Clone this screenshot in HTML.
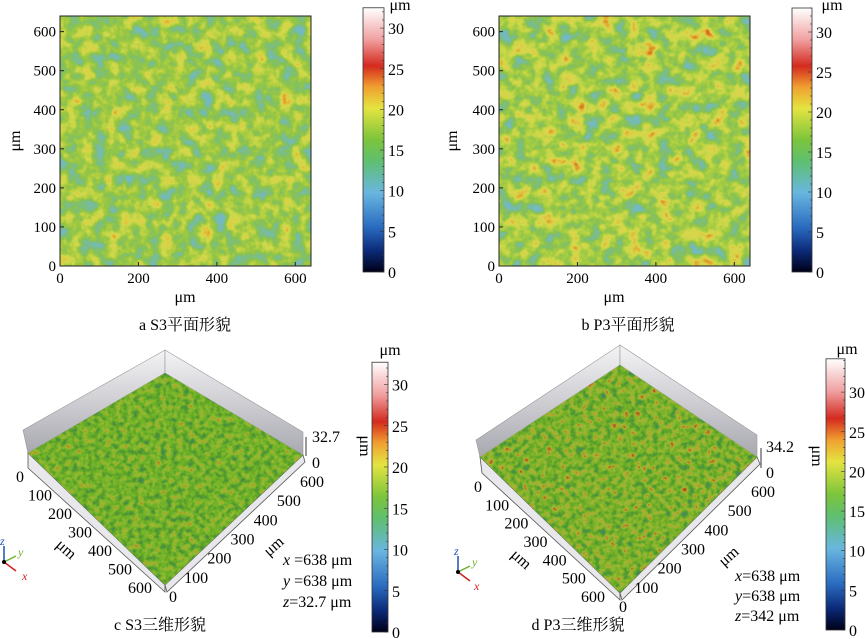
<!DOCTYPE html>
<html><head><meta charset="utf-8">
<style>
body{margin:0;background:#fff}
svg{display:block;font-family:"Liberation Serif","Noto Serif CJK SC",serif}
</style></head>
<body>
<svg id="fig" width="865" height="639" viewBox="0 0 865 639" xmlns="http://www.w3.org/2000/svg">
<defs>
 <filter id="nz2a" x="0" y="0" width="1" height="1" filterUnits="objectBoundingBox" color-interpolation-filters="sRGB">
  <feTurbulence type="fractalNoise" baseFrequency="0.075" numOctaves="3" seed="3"/>
  <feColorMatrix type="matrix" values="1 0 0 0 0 1 0 0 0 0 1 0 0 0 0 0 0 0 0 1"/>
  <feComponentTransfer>
   <feFuncR type="table" tableValues=".45 .45 .46 .48 .52 .6 .72 .82 .88 .9 .9"/>
   <feFuncG type="table" tableValues=".72 .72 .73 .74 .76 .78 .82 .85 .8 .6 .5"/>
   <feFuncB type="table" tableValues=".78 .78 .74 .56 .36 .26 .26 .3 .25 .15 .1"/>
  </feComponentTransfer>
 </filter>
 <filter id="nz2b" x="0" y="0" width="1" height="1" filterUnits="objectBoundingBox" color-interpolation-filters="sRGB">
  <feTurbulence type="fractalNoise" baseFrequency="0.07" numOctaves="3" seed="11"/>
  <feColorMatrix type="matrix" values="1 0 0 0 0 1 0 0 0 0 1 0 0 0 0 0 0 0 0 1"/>
  <feComponentTransfer>
   <feFuncR type="table" tableValues=".45 .45 .46 .48 .54 .64 .78 .86 .88 .85 .85"/>
   <feFuncG type="table" tableValues=".72 .72 .73 .74 .76 .8 .84 .84 .7 .4 .3"/>
   <feFuncB type="table" tableValues=".78 .78 .74 .52 .32 .26 .28 .3 .2 .12 .1"/>
  </feComponentTransfer>
 </filter>
 <filter id="nz3a" x="0" y="0" width="1" height="1" filterUnits="objectBoundingBox" color-interpolation-filters="sRGB">
  <feTurbulence type="fractalNoise" baseFrequency="0.18" numOctaves="2" seed="5"/>
  <feColorMatrix type="matrix" values="1 0 0 0 0 1 0 0 0 0 1 0 0 0 0 0 0 0 0 1"/>
  <feComponentTransfer>
   <feFuncR type="table" tableValues=".26 .26 .28 .32 .38 .44 .52 .62 .7 .72 .72"/>
   <feFuncG type="table" tableValues=".5 .5 .54 .6 .65 .7 .72 .72 .6 .45 .4"/>
   <feFuncB type="table" tableValues=".4 .4 .3 .2 .16 .16 .18 .2 .15 .1 .1"/>
  </feComponentTransfer>
 </filter>
 <filter id="nz3b" x="0" y="0" width="1" height="1" filterUnits="objectBoundingBox" color-interpolation-filters="sRGB">
  <feTurbulence type="fractalNoise" baseFrequency="0.17" numOctaves="2" seed="8"/>
  <feColorMatrix type="matrix" values="1 0 0 0 0 1 0 0 0 0 1 0 0 0 0 0 0 0 0 1"/>
  <feComponentTransfer>
   <feFuncR type="table" tableValues=".26 .26 .28 .32 .4 .48 .58 .7 .72 .65 .6"/>
   <feFuncG type="table" tableValues=".52 .52 .56 .6 .66 .7 .72 .68 .45 .3 .25"/>
   <feFuncB type="table" tableValues=".45 .45 .32 .2 .16 .16 .2 .2 .12 .1 .1"/>
  </feComponentTransfer>
 </filter>
 <linearGradient id="cmap" x1="0" y1="1" x2="0" y2="0">
  <stop offset="0" stop-color="#000018"/>
  <stop offset="0.08" stop-color="#0b2a78"/>
  <stop offset="0.17" stop-color="#2a6bc0"/>
  <stop offset="0.3" stop-color="#69b6e0"/>
  <stop offset="0.42" stop-color="#5fbf70"/>
  <stop offset="0.5" stop-color="#7cc43c"/>
  <stop offset="0.62" stop-color="#e4e440"/>
  <stop offset="0.7" stop-color="#f0a030"/>
  <stop offset="0.78" stop-color="#d42a1e"/>
  <stop offset="0.88" stop-color="#f0a0a0"/>
  <stop offset="1" stop-color="#ffffff"/>
 </linearGradient>
 <linearGradient id="wall" x1="0" y1="0" x2="0" y2="1">
  <stop offset="0" stop-color="#f4f4f6"/><stop offset="1" stop-color="#a8a8b0"/>
 </linearGradient>
 <clipPath id="clipC"><polygon points="28,453 165,373 303,455 165,585"/></clipPath>
 <clipPath id="clipD"><polygon points="480,457 620,365 757,457 620,593"/></clipPath>
</defs>

<g>
 <rect x="60" y="16" width="251" height="250" filter="url(#nz2a)"/>
 <rect x="60" y="16" width="251" height="250" fill="none" stroke="#222" stroke-width="1"/>
 <g id="axA"></g>
 <text x="185" y="302" font-size="16" text-anchor="middle">μm</text>
 <text transform="translate(20,141) rotate(-90)" font-size="16" text-anchor="middle">μm</text>
 <g id="cbA"></g>
 <text x="185" y="330" font-size="16" text-anchor="middle">a  S3平面形貌</text>
</g>
<g>
 <rect x="499" y="16" width="251" height="250" filter="url(#nz2b)"/>
 <rect x="499" y="16" width="251" height="250" fill="none" stroke="#222" stroke-width="1"/>
 <g id="axB"></g>
 <text x="614" y="302" font-size="16" text-anchor="middle">μm</text>
 <text transform="translate(457,141) rotate(-90)" font-size="16" text-anchor="middle">μm</text>
 <g id="cbB"></g>
 <text x="628" y="330" font-size="16" text-anchor="middle">b  P3平面形貌</text>
</g>
<g>
 <polygon points="23,430 165,350 165,373 28,453" fill="url(#wall)" stroke="#999" stroke-width="0.6"/>
 <polygon points="165,350 303,432 303,455 165,373" fill="url(#wall)" stroke="#999" stroke-width="0.6"/>
 <polygon points="28,453 165,585 165,592 28,468" fill="#e8e8ec" stroke="#555" stroke-width="0.8"/>
 <polygon points="165,585 303,455 305,462 167,592" fill="#e8e8ec" stroke="#555" stroke-width="0.8"/>
 <rect x="20" y="360" width="290" height="230" filter="url(#nz3a)" clip-path="url(#clipC)"/>
 <line x1="306" y1="437" x2="306" y2="456" stroke="#333"/>
 <text x="312" y="442" font-size="16">32.7</text><text x="312" y="468" font-size="16">0</text>
 <text transform="translate(360,446) rotate(90)" font-size="16" text-anchor="middle">μm</text>
 <g id="axC"></g>
 <text transform="translate(63,553) rotate(42)" font-size="16" text-anchor="middle">μm</text>
 <text transform="translate(277,550) rotate(-42)" font-size="16" text-anchor="middle">μm</text>
 <g>
  <line x1="4" y1="562" x2="4" y2="546" stroke="#2050b0" stroke-width="1.5"/><text x="0" y="545" font-size="12" fill="#2050b0" font-style="italic">z</text>
  <line x1="4" y1="562" x2="16" y2="556" stroke="#70b030" stroke-width="1.5"/><text x="18" y="556" font-size="12" fill="#70b030" font-style="italic">y</text>
  <line x1="4" y1="562" x2="16" y2="571" stroke="#d02020" stroke-width="1.5"/><text x="22" y="580" font-size="12" fill="#d02020" font-style="italic">x</text>
  <circle cx="4" cy="562" r="2" fill="#000"/>
 </g>
 <text x="283" y="565" font-size="16"><tspan font-style="italic">x</tspan> =638 μm</text>
 <text x="283" y="586" font-size="16"><tspan font-style="italic">y</tspan> =638 μm</text>
 <text x="283" y="607" font-size="16"><tspan font-style="italic">z</tspan>=32.7 μm</text>
 <g id="cbC"></g>
 <text x="160" y="630" font-size="16" text-anchor="middle">c  S3三维形貌</text>
</g>
<g>
 <polygon points="476,440 620,345 620,365 480,457" fill="url(#wall)" stroke="#999" stroke-width="0.6"/>
 <polygon points="620,345 757,435 757,457 620,365" fill="url(#wall)" stroke="#999" stroke-width="0.6"/>
 <polygon points="480,457 620,593 620,600 482,473" fill="#e8e8ec" stroke="#555" stroke-width="0.8"/>
 <polygon points="620,593 757,457 760,464 622,600" fill="#e8e8ec" stroke="#555" stroke-width="0.8"/>
 <rect x="475" y="360" width="290" height="240" filter="url(#nz3b)" clip-path="url(#clipD)"/>
 <line x1="761" y1="448" x2="761" y2="468" stroke="#333"/>
 <text x="766" y="452" font-size="16">34.2</text><text x="766" y="478" font-size="16">0</text>
 <text transform="translate(812,456) rotate(90)" font-size="16" text-anchor="middle">μm</text>
 <g id="axD"></g>
 <text transform="translate(518,563) rotate(42)" font-size="16" text-anchor="middle">μm</text>
 <text transform="translate(732,560) rotate(-42)" font-size="16" text-anchor="middle">μm</text>
 <g>
  <line x1="458" y1="572" x2="458" y2="556" stroke="#2050b0" stroke-width="1.5"/><text x="454" y="555" font-size="12" fill="#2050b0" font-style="italic">z</text>
  <line x1="458" y1="572" x2="470" y2="566" stroke="#70b030" stroke-width="1.5"/><text x="472" y="566" font-size="12" fill="#70b030" font-style="italic">y</text>
  <line x1="458" y1="572" x2="470" y2="581" stroke="#d02020" stroke-width="1.5"/><text x="474" y="590" font-size="12" fill="#d02020" font-style="italic">x</text>
  <circle cx="458" cy="572" r="2" fill="#000"/>
 </g>
 <text x="735" y="581" font-size="16"><tspan font-style="italic">x</tspan>=638 μm</text>
 <text x="735" y="601" font-size="16"><tspan font-style="italic">y</tspan>=638 μm</text>
 <text x="735" y="621" font-size="16"><tspan font-style="italic">z</tspan>=342 μm</text>
 <g id="cbD"></g>
 <text x="578" y="630" font-size="16" text-anchor="middle">d  P3三维形貌</text>
</g>
</svg>
<script>
const planTicks = [0, 200, 400, 600];
const planYTicks = [0, 100, 200, 300, 400, 500, 600];
const planMax = 640;
const cbTicks = [0, 5, 10, 15, 20, 25, 30];
const cbMaxA = 32.5, cbMaxB = 33, cbMaxC = 32.7, cbMaxD = 34.2;
const surfTicks = [0, 100, 200, 300, 400, 500, 600];
const NS = "http://www.w3.org/2000/svg";
function mk(tag, attrs, parent, txt){const e=document.createElementNS(NS,tag);for(const k in attrs)e.setAttribute(k,attrs[k]);if(txt!==undefined)e.textContent=txt;parent.appendChild(e);return e;}

function planAxes(id, x0, y0, w, h){
  const g=document.getElementById(id);
  const sx=v=>x0+v/planMax*w, sy=v=>y0+h-v/planMax*h;
  planTicks.forEach(v=>{
    mk('line',{x1:sx(v),x2:sx(v),y1:y0+h,y2:y0+h-4,stroke:'#222'},g);
    const t=mk('text',{x:sx(v),y:y0+h+17,'font-size':15,'text-anchor':'middle'},g,String(v));
    
    
  });
  planYTicks.forEach(v=>{
    mk('line',{x1:x0,x2:x0+4,y1:sy(v),y2:sy(v),stroke:'#222'},g);
    const t=mk('text',{x:x0-4,y:sy(v)+5,'font-size':15,'text-anchor':'end'},g,String(v));
    
    
  });
}
function colorbar(id, x, yTop, w, y0, pxPer, max, unitX, unitY){
  const g=document.getElementById(id);
  const top=y0-max*pxPer;
  const r=mk('rect',{x:x,y:top,width:w,height:y0-top,fill:'url(#cmap)',stroke:'#333','stroke-width':0.8},g);
  
  
  for(let v=0;v<=max;v+=1){const yy=y0-v*pxPer;mk('line',{x1:x+w-(v%5?2:4),x2:x+w,y1:yy,y2:yy,stroke:'#333','stroke-width':0.6},g);}
  cbTicks.forEach(v=>{
    const t=mk('text',{x:x+w+4,y:y0-v*pxPer+6,'font-size':16},g,String(v));
    
    
  });
  const u=mk('text',{x:unitX,y:unitY,'font-size':16,'text-anchor':'middle'},g,'μm');
  
  
}
function surfAxes(id, L0, L1, R0, R1){
  const g=document.getElementById(id);
  surfTicks.forEach(v=>{
    const f=v/600;
    const t=mk('text',{x:L0[0]+(L1[0]-L0[0])*f,y:L0[1]+(L1[1]-L0[1])*f+5,'font-size':16,'text-anchor':'middle'},g,String(v));
    
    
    const t2=mk('text',{x:R0[0]+(R1[0]-R0[0])*f,y:R0[1]+(R1[1]-R0[1])*f+5,'font-size':16,'text-anchor':'middle'},g,String(v));
    
    
  });
}
planAxes('axA',60,16,251,250);
planAxes('axB',499,16,251,250);
colorbar('cbA',363,8,21,272,8.13,cbMaxA,400,10);
colorbar('cbB',792,8,20,272,8.0,cbMaxB,832,10);
colorbar('cbC',372,362,16,632,8.25,cbMaxC,390,355);
colorbar('cbD',826,359,19,630,7.93,cbMaxD,847,354);
surfAxes('axC',[20,477],[140,588],[173,597],[312,482]);
surfAxes('axD',[478,487],[593,597],[623,607],[763,492]);
</script>
</body></html>
